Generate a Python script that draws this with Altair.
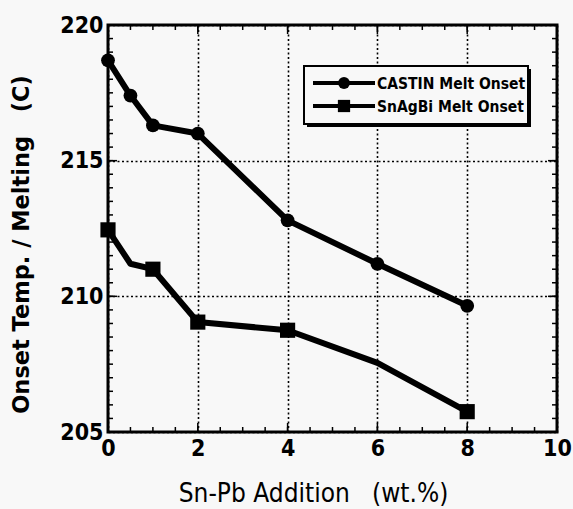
import altair as alt
import pandas as pd

# ---- data ----
series_names = ["CASTIN Melt Onset", "SnAgBi Melt Onset"]
castin_x = [0, 0.5, 1, 2, 4, 6, 8]
castin_y = [218.7, 217.4, 216.3, 216.0, 212.8, 211.2, 209.65]
castin_marked = [True, True, True, True, True, True, True]
snagbi_x = [0, 0.5, 1, 2, 4, 6, 8]
snagbi_y = [212.45, 211.2, 211.0, 209.05, 208.75, 207.55, 205.75]
snagbi_marked = [True, False, True, True, True, False, True]

x_major = [0, 2, 4, 6, 8, 10]
y_major = [205, 210, 215, 220]
x_minor = [v / 2 for v in range(0, 21)]
y_minor = [205 + v / 2 for v in range(0, 31)]

NB = "\u00a0"
x_title = "Sn-Pb Addition" + NB * 3 + "(wt.%)"
y_title = "Onset Temp. / Melting" + NB * 3 + "(C)"

# ---- layout ----
W, H = 449, 407
BG = "#f8f8f8"
LBL_FONT = "Liberation Sans Narrow, DejaVu Sans Condensed, Liberation Sans"

df = pd.concat([
    pd.DataFrame({"x": castin_x, "y": castin_y, "series": series_names[0], "marked": castin_marked}),
    pd.DataFrame({"x": snagbi_x, "y": snagbi_y, "series": series_names[1], "marked": snagbi_marked}),
])

xs = alt.Scale(domain=[0, 10], nice=False, zero=False)
ys = alt.Scale(domain=[205, 220], nice=False, zero=False)
shape_scale = alt.Scale(domain=series_names, range=["circle", "square"])

x_axis = alt.Axis(values=x_major, format="d", grid=True, gridDash=[2, 2.5], gridColor="black",
                  gridWidth=1.6, gridOpacity=1, domain=False, ticks=False, labelFont=LBL_FONT,
                  labelFontWeight="bold", labelFontSize=23, labelColor="black", labelPadding=16,
                  labelBaseline="middle", labelFlush=False, title=x_title, titleFont=LBL_FONT,
                  titleFontWeight="normal", titleFontSize=26, titleColor="black", titleX=205,
                  titleY=48, titleAnchor="middle", titleAlign="center")
y_axis = alt.Axis(values=y_major, format="d", grid=True, gridDash=[2, 2.5], gridColor="black",
                  gridWidth=1.6, gridOpacity=1, domain=False, ticks=False, labelFont=LBL_FONT,
                  labelFontWeight="bold", labelFontSize=23, labelColor="black", labelPadding=5,
                  labelFlush=False, title=y_title, titleFont="DejaVu Sans", titleFontWeight="bold",
                  titleFontSize=22.5, titleColor="black", titleAngle=-90, titleX=-87, titleY=219,
                  titleAlign="center", titleBaseline="middle")

X = lambda f: alt.X(f, scale=xs, axis=x_axis)
Y = lambda f: alt.Y(f, scale=ys, axis=y_axis)

lines = alt.Chart(df).mark_line(color="black", strokeWidth=6, strokeJoin="round").encode(
    x=X("x:Q"), y=Y("y:Q"), detail="series:N")

points = alt.Chart(df).transform_filter("datum.marked").mark_point(
    filled=True, color="black", opacity=1).encode(
    x=X("x:Q"), y=Y("y:Q"),
    shape=alt.Shape("series:N", scale=shape_scale, legend=None),
    size=alt.Size("series:N", scale=alt.Scale(domain=series_names, range=[190, 230]), legend=None),
)

def xticks(vals, length, top):
    d = pd.DataFrame({"v": vals})
    y0 = 0 if top else H
    y1 = length if top else H - length
    return alt.Chart(d).mark_rule(color="black", strokeWidth=1.5).encode(
        x=X("v:Q"), y=alt.value(y0), y2=alt.value(y1))

def yticks(vals, length, left):
    d = pd.DataFrame({"v": vals})
    x0 = 0 if left else W
    x1 = length if left else W - length
    return alt.Chart(d).mark_rule(color="black", strokeWidth=1.5).encode(
        y=Y("v:Q"), x=alt.value(x0), x2=alt.value(x1))

ticks = [xticks(x_minor, 5, True), xticks(x_minor, 5, False), xticks(x_major, 9, True), xticks(x_major, 9, False),
         yticks(y_minor, 5, True), yticks(y_minor, 5, False), yticks(y_major, 9, True), yticks(y_major, 9, False)]

one = pd.DataFrame({"a": [0]})
shadow = alt.Chart(one).mark_rect(fill="black").encode(
    x=alt.value(199), x2=alt.value(423), y=alt.value(44), y2=alt.value(102))
box = alt.Chart(one).mark_rect(fill=BG, stroke="black", strokeWidth=2).encode(
    x=alt.value(196), x2=alt.value(420), y=alt.value(41), y2=alt.value(99))

legend_layers = [shadow, box]
for i, name in enumerate(series_names):
    row = pd.DataFrame({"series": [name]})
    yy = 58 + 23 * i
    legend_layers.append(alt.Chart(row).mark_rule(color="black", strokeWidth=4).encode(
        x=alt.value(205), x2=alt.value(267), y=alt.value(yy)))
    legend_layers.append(alt.Chart(row).mark_point(filled=True, color="black", opacity=1,
                                                   shape=["circle", "square"][i], size=[140, 150][i]).encode(
        x=alt.value(236), y=alt.value(yy)))
    legend_layers.append(alt.Chart(row).mark_text(align="left", baseline="middle", font=LBL_FONT,
                                                  fontSize=15.5, fontWeight="bold", color="black").encode(
        x=alt.value(269), y=alt.value(yy + 1), text="series:N"))

chart = alt.layer(lines, points, *ticks, *legend_layers).properties(
    width=W, height=H,
    background=BG,
    padding={"left": 108, "top": 25, "right": 16, "bottom": 77},
    autosize=alt.AutoSizeParams(type="none"),
).configure_view(stroke="black", strokeWidth=3, fill=BG)

chart.save("out.html", embed_options={"renderer": "svg", "actions": False})
